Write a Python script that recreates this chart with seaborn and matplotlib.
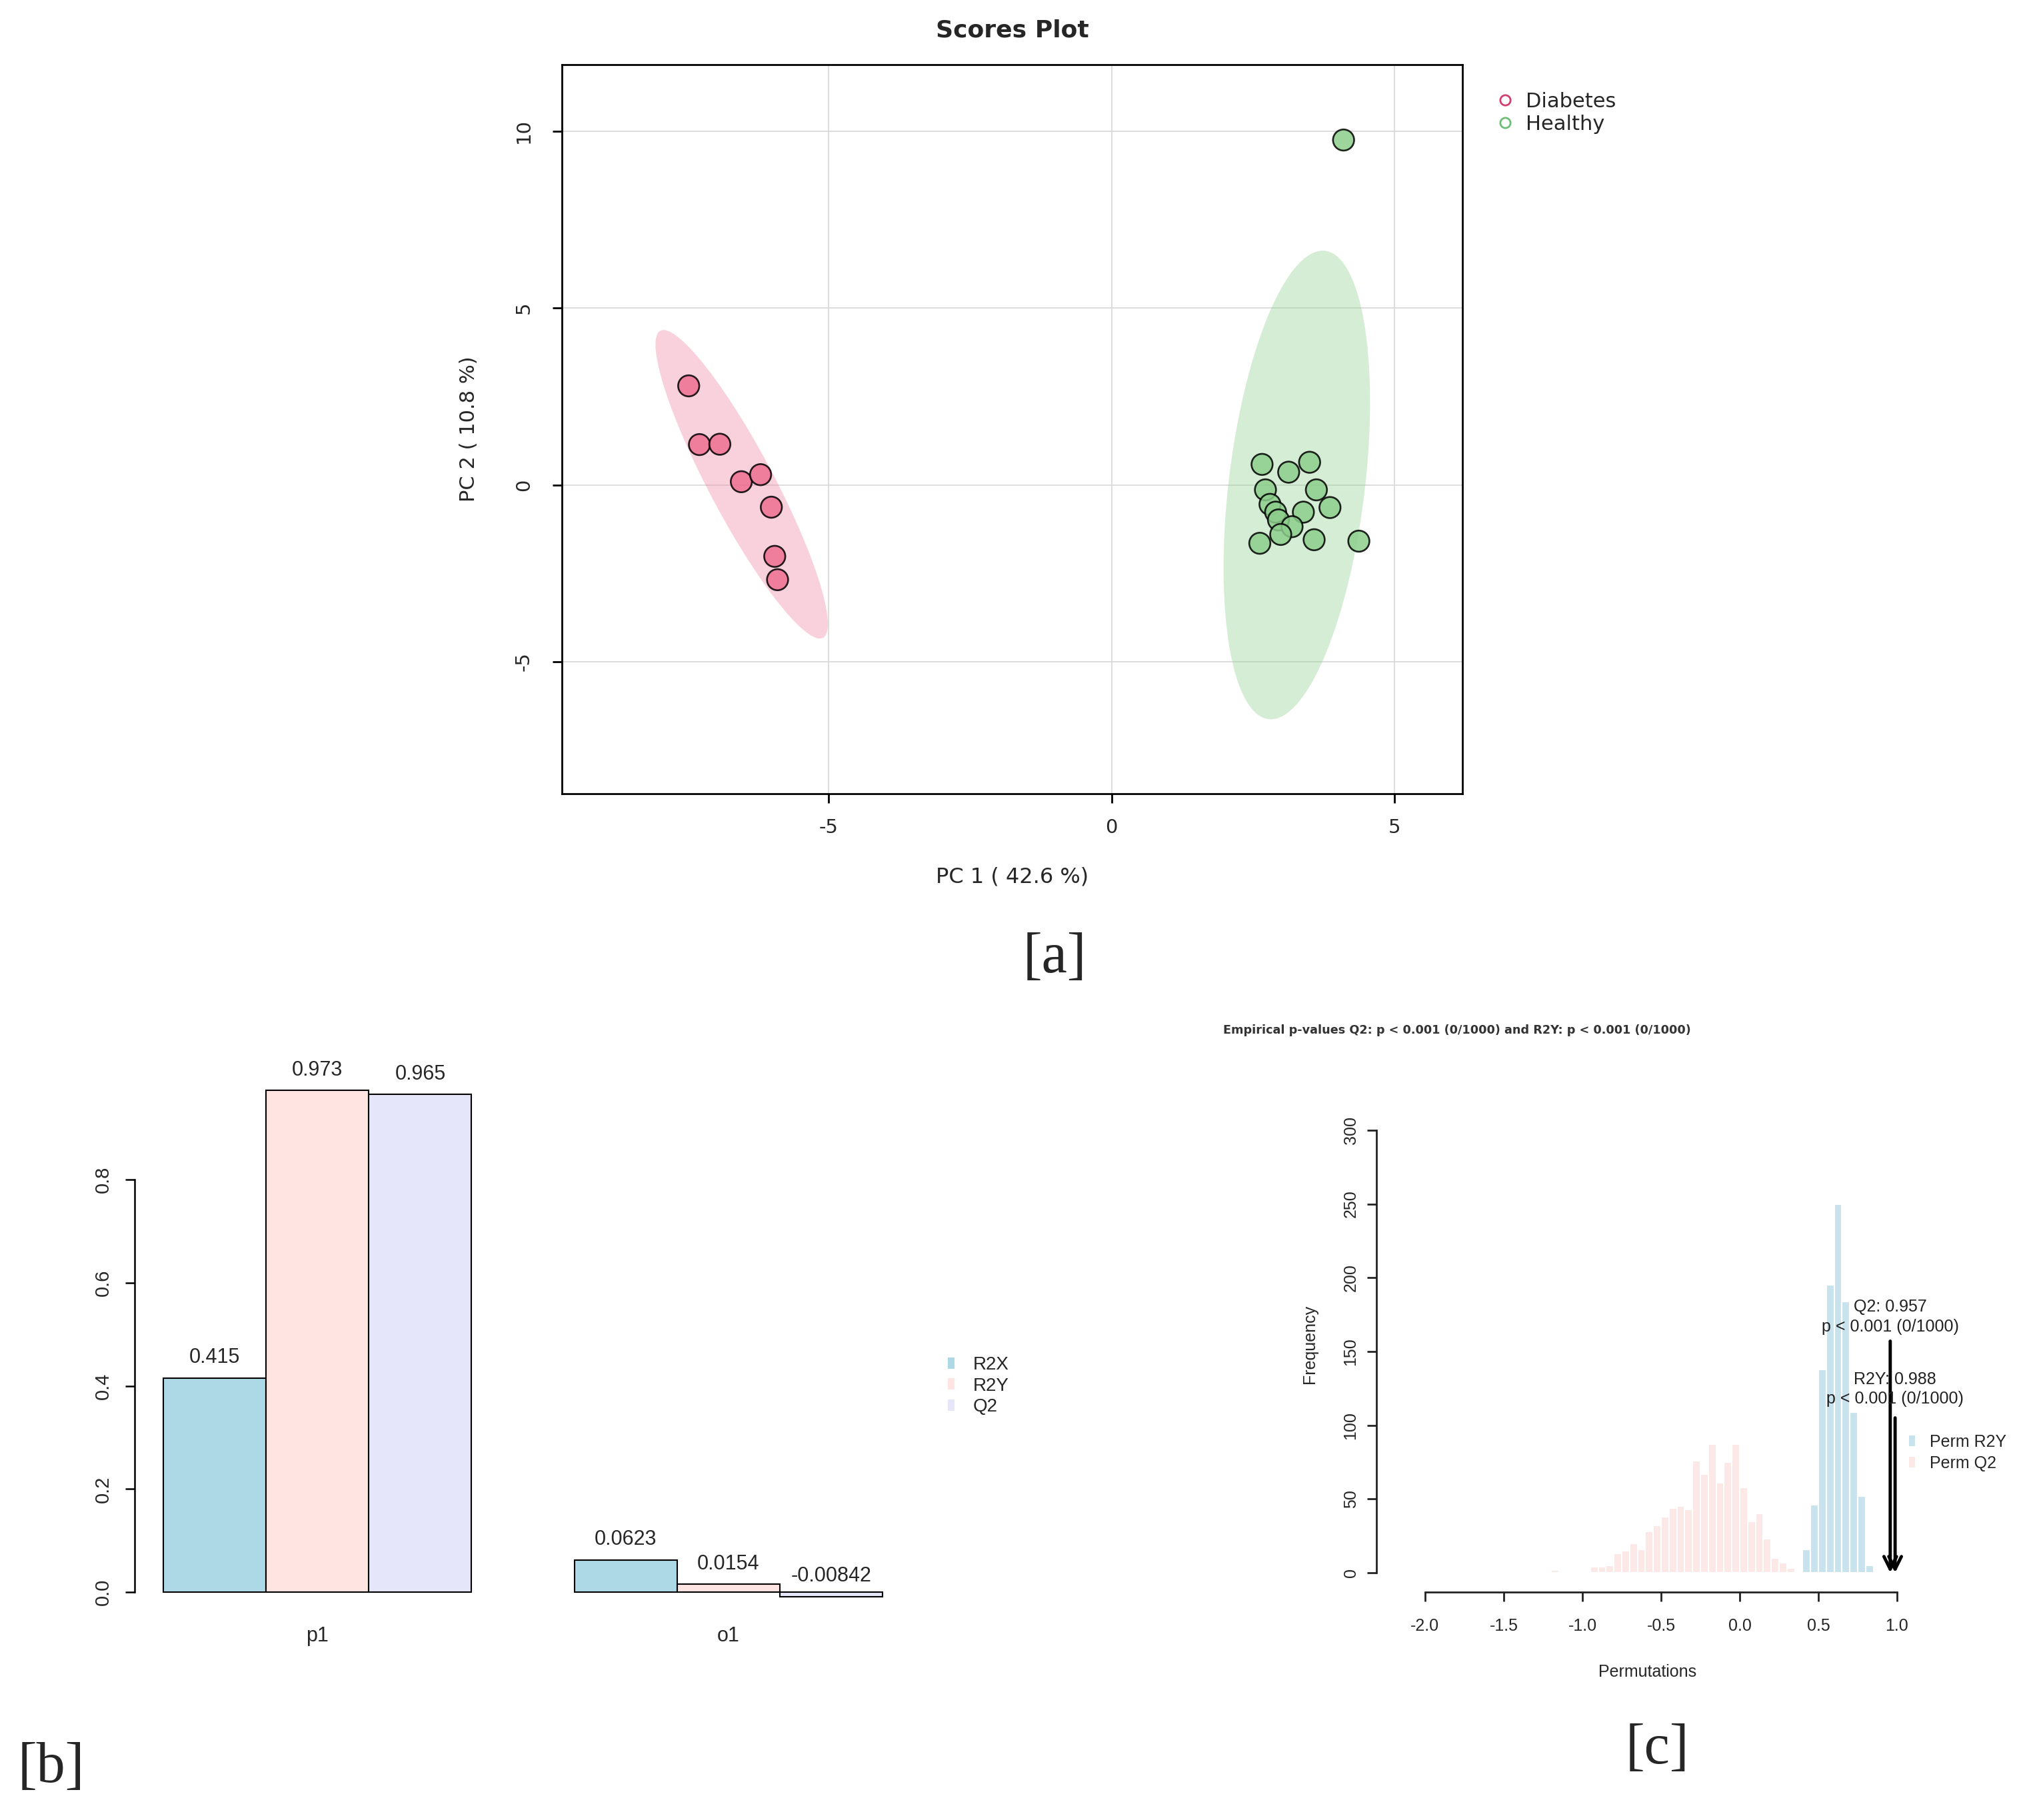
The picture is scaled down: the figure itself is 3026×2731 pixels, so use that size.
import numpy as np
import pandas as pd
import matplotlib
matplotlib.use("Agg")
import matplotlib.pyplot as plt
import seaborn as sns
from matplotlib.patches import Ellipse, Patch
from matplotlib.lines import Line2D

# ---------- данные ----------
# [a] PCA scores
groups = ["Diabetes", "Healthy"]
diab_pc1 = [-7.47, -7.28, -6.92, -6.54, -6.20, -6.01, -5.95, -5.90]
diab_pc2 = [2.80, 1.14, 1.15, 0.09, 0.29, -0.63, -2.02, -2.68]
healthy_pc1 = [4.10, 2.66, 3.13, 3.50, 2.72, 3.62, 2.80, 3.86,
               2.90, 3.39, 2.95, 3.19, 2.99, 2.62, 3.58, 4.37]
healthy_pc2 = [9.75, 0.58, 0.36, 0.64, -0.14, -0.14, -0.55, -0.64,
               -0.77, -0.77, -0.99, -1.18, -1.40, -1.65, -1.55, -1.59]
pc1_label = "PC 1 ( 42.6 %)"
pc2_label = "PC 2 ( 10.8 %)"

# [b] OPLS-DA model overview
components = ["p1", "o1"]
metrics = ["R2X", "R2Y", "Q2"]
r2x = [0.415, 0.0623]
r2y = [0.973, 0.0154]
q2 = [0.965, -0.00842]

# [c] permutation test histogram (bin width 0.05)
perm_q2_counts = [1, 1, 2, 1, 0, 1, 1, 4, 4, 5, 13, 15, 20, 16, 28, 32, 38,
                  44, 45, 43, 76, 67, 87, 61, 75, 87, 58, 35, 40, 23, 10, 7, 3, 1]
perm_r2y_counts = [16, 46, 138, 195, 250, 184, 109, 52, 5]
q2_first_edge, r2y_first_edge, bin_width = -1.30, 0.40, 0.05
q2_obs, r2y_obs = 0.957, 0.988
c_title = "Empirical p-values Q2: p < 0.001 (0/1000) and R2Y: p < 0.001 (0/1000)"

# ---------- оформление ----------
sns.set_style("white")
plt.rcParams['font.family'] = ['Liberation Sans', 'DejaVu Sans']
plt.rcParams['axes.unicode_minus'] = False

W, H, DPI = 3026, 2731, 100
CHI2_95 = 5.991  # qchisq(0.95, 2)


def fig_rect(left, top, right, bottom):
    return [left / W, 1 - bottom / H, (right - left) / W, (bottom - top) / H]


fig = plt.figure(figsize=(W / DPI, H / DPI), dpi=DPI)

# ---------- [a] Scores Plot ----------
ax_a = fig.add_axes(fig_rect(843, 96.5, 2194, 1191))
df_a = pd.DataFrame({
    'PC1': diab_pc1 + healthy_pc1,
    'PC2': diab_pc2 + healthy_pc2,
    'group': [groups[0]] * len(diab_pc1) + [groups[1]] * len(healthy_pc1),
})
point_colors = {"Diabetes": "#EE6E91", "Healthy": "#8CCE8C"}
ellipse_colors = {"Diabetes": "#F08CA8", "Healthy": "#96D296"}
legend_colors = {"Diabetes": "#D23F6E", "Healthy": "#6DBE76"}

for g in groups:
    pts = df_a.loc[df_a['group'] == g, ['PC1', 'PC2']].to_numpy()
    vals, vecs = np.linalg.eigh(np.cov(pts, rowvar=False))
    order = vals.argsort()[::-1]
    vals, vecs = vals[order], vecs[:, order]
    angle = np.degrees(np.arctan2(vecs[1, 0], vecs[0, 0]))
    w, h = 2 * np.sqrt(CHI2_95 * vals)
    ax_a.add_patch(Ellipse(pts.mean(axis=0), w, h, angle=angle,
                           facecolor=ellipse_colors[g], edgecolor='none',
                           alpha=0.4, zorder=2))

sns.scatterplot(data=df_a, x='PC1', y='PC2', hue='group', hue_order=groups,
                palette=point_colors, s=520, edgecolor='black', linewidth=1.9,
                alpha=0.85, legend=False, ax=ax_a, zorder=3)

ax_a.set_xlim(-9.71, 6.20)
ax_a.set_ylim(-8.73, 11.89)
ax_a.set_xticks([-5, 0, 5])
ax_a.set_yticks([-5, 0, 5, 10])
ax_a.grid(True, color='#DADADA', lw=1.3)
ax_a.set_axisbelow(True)
for sp in ax_a.spines.values():
    sp.set_color('black')
    sp.set_linewidth(2)
ax_a.tick_params(direction='out', length=10, width=2, labelsize=21, color='black',
                 bottom=True, left=True)
ax_a.tick_params(axis='x', pad=17)
ax_a.tick_params(axis='y', pad=21, labelrotation=90)
for lab in ax_a.get_xticklabels() + ax_a.get_yticklabels():
    lab.set_fontfamily('DejaVu Sans')
for lab in ax_a.get_yticklabels():
    lab.set_va('center')
ax_a.set_xlabel(pc1_label, fontsize=23, family='DejaVu Sans', va='center')
ax_a.set_ylabel(pc2_label, fontsize=22, family='DejaVu Sans', va='center')
ax_a.xaxis.set_label_coords(0.5, -0.1142)
ax_a.yaxis.set_label_coords(-0.1029, 0.5)
fig.text(1518.5 / W, 1 - 46 / H, "Scores Plot", ha='center', va='center',
         fontsize=26, fontweight='bold', family='DejaVu Sans')

handles_a = [Line2D([], [], marker='o', ls='', mfc='none', mec=legend_colors[g],
                    ms=11, mew=2) for g in groups]
ax_a.legend(handles_a, groups, loc='upper left',
            bbox_to_anchor=(2243 / W, 1 - 138 / H), bbox_transform=fig.transFigure,
            frameon=False, handlelength=1, handletextpad=0.5, borderpad=0,
            borderaxespad=0, labelspacing=0.15, prop={'family': 'DejaVu Sans', 'size': 22})

# ---------- [b] Overview bars ----------
ax_b = fig.add_axes(fig_rect(202, 1606, 1367, 2426))
df_b = pd.DataFrame({
    'component': components * 3,
    'metric': np.repeat(metrics, len(components)),
    'value': r2x + r2y + q2,
})
bar_colors = {"R2X": "#ADD8E6", "R2Y": "#FFE4E1", "Q2": "#E6E6FA"}
sns.barplot(data=df_b, x='component', y='value', hue='metric', order=components,
            hue_order=metrics, palette=bar_colors, width=0.75, saturation=1,
            edgecolor='black', linewidth=1.5, errorbar=None, legend=False, ax=ax_b)
for patch in ax_b.patches:
    v = patch.get_height()
    ax_b.annotate(f"{v:g}", (patch.get_x() + patch.get_width() / 2, v),
                  xytext=(0, 22), textcoords='offset points', ha='center',
                  va='center', fontsize=22, annotation_clip=False)

ax_b.set_xlim(-0.445, 1.445)
ax_b.set_ylim(-0.0477, 1.012)
for s in ['top', 'right', 'bottom']:
    ax_b.spines[s].set_visible(False)
ax_b.spines['left'].set_bounds(0, 0.8)
ax_b.spines['left'].set_linewidth(1.8)
ax_b.spines['left'].set_color('black')
ax_b.set_yticks([0, 0.2, 0.4, 0.6, 0.8])
ax_b.set_yticklabels([f"{t:.1f}" for t in [0, 0.2, 0.4, 0.6, 0.8]])
ax_b.tick_params(axis='y', direction='out', length=10, width=1.8, labelsize=21,
                 pad=14, labelrotation=90, color='black', left=True)
for lab in ax_b.get_yticklabels():
    lab.set_va('center')
ax_b.tick_params(axis='x', length=0, labelsize=22, pad=10)
ax_b.set_xlabel('')
ax_b.set_ylabel('')
ax_b.legend([Patch(facecolor=bar_colors[m], edgecolor='none') for m in metrics], metrics,
            loc='upper left', bbox_to_anchor=(1422 / W, 1 - 2035 / H),
            bbox_transform=fig.transFigure, frameon=False, handlelength=0.35,
            handleheight=0.55, handletextpad=1.0, borderpad=0, borderaxespad=0,
            labelspacing=0.2, fontsize=20)

# ---------- [c] Permutation histogram ----------
ax_c = fig.add_axes(fig_rect(2065, 1606, 2879, 2389))
q2_edges = [round(q2_first_edge + bin_width * i, 3) for i in range(len(perm_q2_counts) + 1)]
r2y_edges = [round(r2y_first_edge + bin_width * i, 3) for i in range(len(perm_r2y_counts) + 1)]
df_q2 = pd.DataFrame({'value': [e + bin_width / 2 for e in q2_edges[:-1]],
                      'count': perm_q2_counts})
df_r2y = pd.DataFrame({'value': [e + bin_width / 2 for e in r2y_edges[:-1]],
                       'count': perm_r2y_counts})
pink, blue = "#FDE8E8", "#C9E3EE"
sns.histplot(data=df_q2, x='value', weights='count', bins=q2_edges,
             color=pink, edgecolor='white', linewidth=1.5, alpha=1, ax=ax_c)
sns.histplot(data=df_r2y, x='value', weights='count', bins=r2y_edges,
             color=blue, edgecolor='white', linewidth=1.5, alpha=1, ax=ax_c)

ax_c.set_xlim(-2.309, 1.14)
ax_c.set_ylim(-13.1, 340.6)
for s in ['top', 'right']:
    ax_c.spines[s].set_visible(False)
ax_c.spines['left'].set_bounds(0, 300)
ax_c.spines['bottom'].set_bounds(-2, 1)
for s in ['left', 'bottom']:
    ax_c.spines[s].set_linewidth(2)
    ax_c.spines[s].set_color('#222222')
xt = [-2.0, -1.5, -1.0, -0.5, 0.0, 0.5, 1.0]
ax_c.set_xticks(xt)
ax_c.set_xticklabels([f"{t:.1f}" for t in xt])
ax_c.set_yticks(range(0, 301, 50))
ax_c.tick_params(axis='x', direction='out', length=10, width=2, labelsize=18,
                 pad=18, bottom=True, color='#222222')
ax_c.tick_params(axis='y', direction='out', length=10, width=2, labelsize=18,
                 pad=9, labelrotation=90, left=True, color='#222222')
for lab in ax_c.get_yticklabels():
    lab.set_va('center')
ax_c.set_xlabel("Permutations", fontsize=18, va='center')
ax_c.set_ylabel("Frequency", fontsize=18, va='center')
ax_c.xaxis.set_label_coords(0.5, -0.1533)
ax_c.yaxis.set_label_coords(-0.1229, 0.475)

for val, name, top, ty in [(q2_obs, "Q2", 157, 173.5), (r2y_obs, "R2Y", 105, 124.5)]:
    ax_c.annotate('', xy=(val, 0), xytext=(val, top),
                  arrowprops=dict(arrowstyle='->', lw=3.5, color='black',
                                  mutation_scale=34, shrinkA=0, shrinkB=0))
    ax_c.text(val, ty, f"{name}: {val:.3f}\np < 0.001 (0/1000)", ha='center',
              va='center', multialignment='center', fontsize=18, linespacing=1.3,
              color='#222222', clip_on=False)

ax_c.legend([Patch(facecolor=c, edgecolor='none') for c in [blue, pink]],
            ["Perm R2Y", "Perm Q2"], loc='upper left',
            bbox_to_anchor=(2864 / W, 1 - 2152 / H), bbox_transform=fig.transFigure,
            frameon=False, handlelength=0.35, handleheight=0.6, handletextpad=0.9,
            borderpad=0, borderaxespad=0, labelspacing=0.3, fontsize=18)

fig.text(2186 / W, 1 - 1546 / H, c_title, ha='center', va='center', fontsize=12.7,
         fontweight='bold', color='#333333', family='DejaVu Sans')

# ---------- panel letters ----------
for lab, x, y in [("[a]", 1582, 1438), ("[b]", 77, 2653), ("[c]", 2486, 2625)]:
    fig.text(x / W, 1 - y / H, lab, ha='center', va='center', fontsize=62,
             family='Liberation Serif')

fig.savefig('out.png', dpi=DPI)
